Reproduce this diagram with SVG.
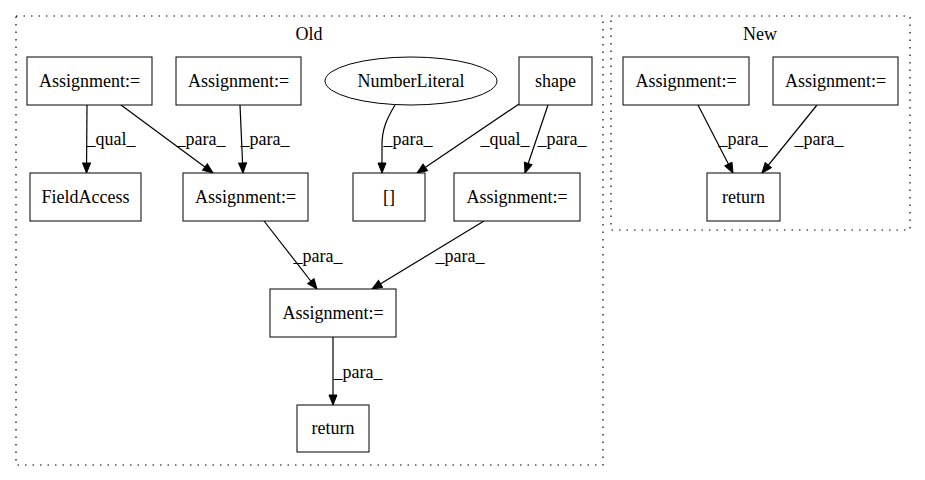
<svg xmlns="http://www.w3.org/2000/svg" width="925" height="480" viewBox="0 0 925 480">
<style>
text{font-family:"Liberation Serif","Times New Roman",serif;font-size:18px;fill:#000;text-anchor:middle}
.n{fill:#fff;stroke:#000;stroke-width:1}
.c{fill:none;stroke:#000;stroke-width:1.2;stroke-dasharray:1.5,6}
.e{fill:none;stroke:#000;stroke-width:1.2;marker-end:url(#ah)}
</style>
<defs>
<marker id="ah" markerUnits="userSpaceOnUse" markerWidth="12" markerHeight="10" refX="11" refY="4.5" orient="auto">
<path d="M1,0.5 L11,4.5 L1,8.5 z" fill="#000" stroke="#000" stroke-width="1"/>
</marker>
</defs>
<rect width="925" height="480" fill="#fff"/>
<g id="cluster_old">
<rect class="c" x="16" y="16" width="587" height="449"/>
<text x="309" y="40">Old</text>
</g>
<g id="cluster_new">
<rect class="c" x="611" y="16" width="299" height="214"/>
<text x="760" y="40">New</text>
</g>
<g id="edges">
<path class="e" d="M87,105 L86.5,173"/>
<text x="111" y="145">_qual_</text>
<path class="e" d="M121,105 L213,173"/>
<text x="201" y="145">_para_</text>
<path class="e" d="M240,105 L243,173"/>
<text x="265" y="145">_para_</text>
<path class="e" d="M395,105 C386,120 382,130 382,145 L382,173"/>
<text x="408" y="145">_para_</text>
<path class="e" d="M519,104 L417,173"/>
<text x="505" y="145">_qual_</text>
<path class="e" d="M548,105 L525,173"/>
<text x="562" y="145">_para_</text>
<path class="e" d="M264,221 L317,289"/>
<text x="318" y="262">_para_</text>
<path class="e" d="M484,221 L372,289"/>
<text x="460" y="262">_para_</text>
<path class="e" d="M333,337 L333,405"/>
<text x="358" y="378">_para_</text>
<path class="e" d="M698,105 L733,173"/>
<text x="743" y="145">_para_</text>
<path class="e" d="M817,105 L762,173"/>
<text x="819" y="145">_para_</text>
</g>
<g id="old_assign1"><rect class="n" x="27" y="57" width="125" height="48"/><text x="89.5" y="87">Assignment:=</text></g>
<g id="old_assign2"><rect class="n" x="176" y="57" width="125" height="48"/><text x="238.5" y="87">Assignment:=</text></g>
<g id="old_numberliteral"><ellipse class="n" cx="411" cy="81" rx="86" ry="24"/><text x="411" y="87">NumberLiteral</text></g>
<g id="old_shape"><rect class="n" x="519" y="57" width="73" height="48"/><text x="555.5" y="87">shape</text></g>
<g id="old_fieldaccess"><rect class="n" x="30" y="173" width="111" height="48"/><text x="85.5" y="203">FieldAccess</text></g>
<g id="old_assign3"><rect class="n" x="183" y="173" width="125" height="48"/><text x="245.5" y="203">Assignment:=</text></g>
<g id="old_index"><rect class="n" x="353" y="173" width="72" height="48"/><text x="389" y="203">[]</text></g>
<g id="old_assign4"><rect class="n" x="454" y="173" width="126" height="48"/><text x="517" y="203">Assignment:=</text></g>
<g id="old_assign5"><rect class="n" x="270" y="289" width="126" height="48"/><text x="333" y="319">Assignment:=</text></g>
<g id="old_return"><rect class="n" x="297" y="405" width="72" height="47"/><text x="333" y="434">return</text></g>
<g id="new_assign1"><rect class="n" x="623" y="57" width="126" height="48"/><text x="686" y="87">Assignment:=</text></g>
<g id="new_assign2"><rect class="n" x="773" y="57" width="125" height="48"/><text x="835.5" y="87">Assignment:=</text></g>
<g id="new_return"><rect class="n" x="707" y="173" width="73" height="48"/><text x="743.5" y="203">return</text></g>
</svg>
